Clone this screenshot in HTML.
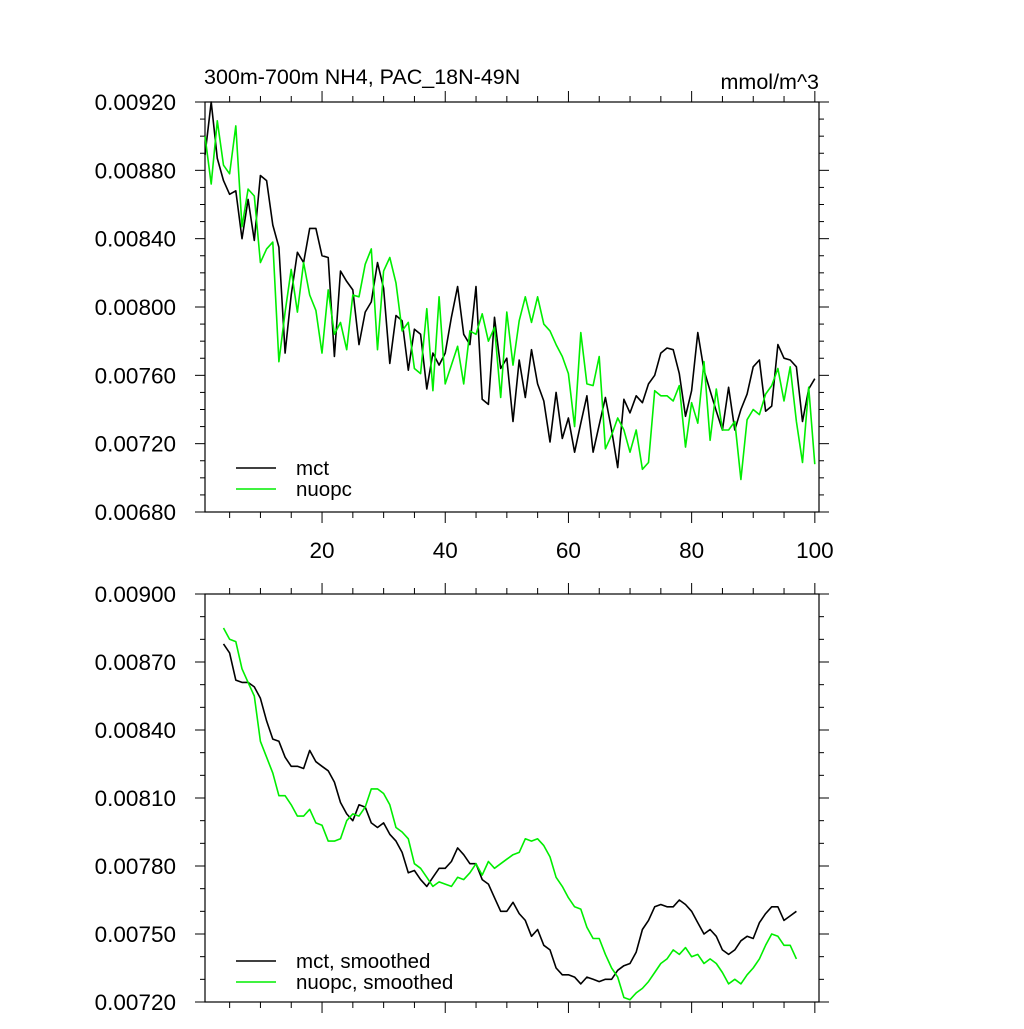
<!DOCTYPE html>
<html><head><meta charset="utf-8"><style>
body{margin:0;background:#fff;}
svg text{font-family:"Liberation Sans",Arial,sans-serif;fill:#000;}
</style></head><body>
<svg id="chart" width="1024" height="1024" xmlns="http://www.w3.org/2000/svg"></svg>
<script>
const topYTicks=[0.0068,0.0072,0.0076,0.0080,0.0084,0.0088,0.0092];
const topYLabels=["0.00680","0.00720","0.00760","0.00800","0.00840","0.00880","0.00920"];
const botYTicks=[0.0072,0.0075,0.0078,0.0081,0.0084,0.0087,0.0090];
const botYLabels=["0.00720","0.00750","0.00780","0.00810","0.00840","0.00870","0.00900"];
const xTicks=[20,40,60,80,100];
const xLabels=["20","40","60","80","100"];
const mctRaw=[889,920,887,874,866,868,840,863,839,877,874,848,835,773,807,832,826,846,846,830,829,771,821,815,810,778,797,803,826,811,767,795,792,763,787,784,752,773,766,773,794,812,784,778,812,746,743,794,764,770,733,769,747,775,755,745,721,750,723,735,715,732,748,715,731,747,728,706,746,738,748,744,755,760,773,776,775,761,736,751,785,763,751,739,728,753,728,740,749,765,769,739,742,778,770,769,765,733,752,758];
const nuopcRaw=[900,872,909,883,878,906,847,869,865,826,834,838,768,797,822,797,826,807,798,773,810,784,791,775,807,806,825,834,775,821,829,814,786,791,764,761,799,751,806,755,766,777,755,786,784,796,780,788,747,797,766,792,806,791,806,790,786,778,771,761,730,785,755,754,771,717,725,735,728,715,728,705,709,751,748,748,745,754,718,744,732,768,722,752,728,728,733,699,734,740,737,749,754,764,745,765,733,709,753,708];
const mctSmooth=[878,874,862,861,861,859,854,844,836,835,828,824,824,823,831,826,824,822,817,808,803,800,807,806,799,797,799,794,791,786,777,778,774,771,775,779,779,782,788,785,781,781,774,772,766,760,760,764,759,756,749,752,745,743,735,732,732,731,728,731,730,729,730,730,734,736,737,742,752,756,762,763,762,762,765,763,760,755,750,752,749,743,741,743,747,749,748,755,759,762,762,756,758,760];
const nuopcSmooth=[885,880,879,867,861,855,835,828,821,811,811,807,802,802,805,799,798,791,791,792,800,803,802,806,814,814,812,807,797,795,792,781,779,775,771,773,772,771,775,774,777,781,776,782,779,781,783,785,786,792,791,792,789,784,775,771,766,762,761,753,748,748,741,735,731,722,721,724,726,729,733,737,739,743,741,744,740,741,737,739,737,733,728,730,728,732,735,739,745,750,749,745,745,739];
const rawStart=1, smoothStart=4;

const svg=document.getElementById('chart');
const NS='http://www.w3.org/2000/svg';
function mk(tag,attrs,parent){const e=document.createElementNS(NS,tag);for(const k in attrs)e.setAttribute(k,attrs[k]);(parent||svg).appendChild(e);return e;}
const X0=205,X1=819;
function xScale(x){return 205+(x-1)*6.16;}
function panel(name,top,bottom,ymin,ymax,yTicks,yLabels,showX){
  const g=mk('g',{});
  
  
  const ys=v=>bottom-(v-ymin)/(ymax-ymin)*(bottom-top);
  mk('rect',{x:X0,y:top,width:X1-X0,height:bottom-top,fill:'none',stroke:'#000','stroke-width':1.2},g);
  const step=0.0001;
  const n=Math.round((ymax-ymin)/step);
  for(let i=0;i<=n;i++){
    const v=ymin+i*step,y=ys(v);
    const major=yTicks.some(t=>Math.abs(t-v)<1e-9);
    const L=major?10:5;
    mk('line',{x1:X0,x2:X0-L,y1:y,y2:y,stroke:'#000','stroke-width':1},g);
    mk('line',{x1:X1,x2:X1+L,y1:y,y2:y,stroke:'#000','stroke-width':1},g);
  }
  yTicks.forEach((t,i)=>{
    const tx=mk('text',{x:176,y:ys(t)+8,'text-anchor':'end','font-size':22.5},g);
    tx.textContent=yLabels[i];
    
    
  });
  for(let x=5;x<=100;x+=5){
    const px=xScale(x);const major=x%20===0;const L=major?11:6;
    mk('line',{x1:px,x2:px,y1:bottom,y2:bottom+L,stroke:'#000','stroke-width':1},g);
    mk('line',{x1:px,x2:px,y1:top,y2:top-L,stroke:'#000','stroke-width':1},g);
  }
  if(showX){
    xTicks.forEach((t,i)=>{
      const tx=mk('text',{x:xScale(t),y:bottom+46,'text-anchor':'middle','font-size':22.5},g);
      tx.textContent=xLabels[i];
      
      
    });
  }
  return {g,ys};
}
function series(p,data,start,color,name){
  const pts=data.map((v,i)=>xScale(start+i).toFixed(1)+','+p.ys(v/100000).toFixed(1)).join(' ');
  const pl=mk('polyline',{points:pts,fill:'none',stroke:color,'stroke-width':1.6,'stroke-linejoin':'round'},p.g);
  
  
}
function legend(p,y,color,label,name){
  const l=mk('line',{x1:236,x2:276,y1:y,y2:y,stroke:color,'stroke-width':1.6},p.g);
  
  
  const t=mk('text',{x:296,y:y+7,'font-size':20.5},p.g);
  t.textContent=label;
  
  
}
const p1=panel('top-panel',102,512,0.0068,0.0092,topYTicks,topYLabels,true);
series(p1,mctRaw,rawStart,'#000','mct-line');
series(p1,nuopcRaw,rawStart,'#00ee00','nuopc-line');
legend(p1,468,'#000','mct','legend-mct');
legend(p1,489,'#00ee00','nuopc','legend-nuopc');
const p2=panel('bottom-panel',594,1002,0.0072,0.0090,botYTicks,botYLabels,false);
series(p2,mctSmooth,smoothStart,'#000','mct-smoothed-line');
series(p2,nuopcSmooth,smoothStart,'#00ee00','nuopc-smoothed-line');
legend(p2,961,'#000','mct, smoothed','legend-mct-smoothed');
legend(p2,982,'#00ee00','nuopc, smoothed','legend-nuopc-smoothed');
const t1=mk('text',{x:204,y:84,'font-size':21.5});
t1.textContent='300m-700m NH4, PAC_18N-49N';


const t2=mk('text',{x:819,y:89,'font-size':21.5,'text-anchor':'end'});
t2.textContent='mmol/m^3';


</script>
</body></html>
